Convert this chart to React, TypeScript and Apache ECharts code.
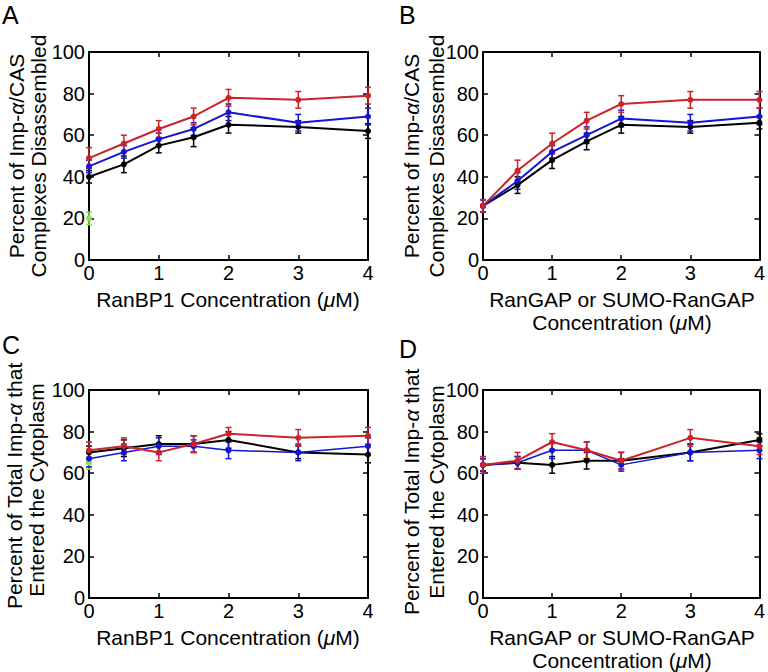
import React, { useEffect, useRef } from "react";
import * as echarts from "echarts";

const concentrations = [0, 0.5, 1, 1.5, 2, 3, 4];
const xTicks = [0, 1, 2, 3, 4];
const yTicks = [0, 20, 40, 60, 80, 100];

// Panel A
const aBlack = [40, 46, 55, 59, 65, 64, 62];
const aBlackErr = [3, 4, 3.5, 4.5, 4, 3, 3.5];
const aBlue = [45, 52, 58, 63, 71, 66, 69];
const aBlueErr = [3, 3, 3, 3, 4, 4, 4];
const aRed = [49, 56, 63, 69, 78, 77, 79];
const aRedErr = [5, 4, 4, 4, 4, 4, 4];
const aGreen = [20];
const aGreenErr = [3];

// Panel B
const bBlack = [26, 36, 48, 57, 65, 64, 66];
const bBlackErr = [3, 4, 4, 4, 4, 3, 3];
const bBlue = [26, 38, 52, 60, 68, 66, 69];
const bBlueErr = [3, 4, 3, 4, 4, 4, 4];
const bRed = [26, 43, 56, 67, 75, 77, 77];
const bRedErr = [3, 5, 5, 4, 4, 4, 4];

// Panel C
const cBlack = [70, 72, 74, 74, 76, 70, 69];
const cBlackErr = [3, 4, 4, 4, 4, 3, 4];
const cBlue = [67, 70, 73, 73, 71, 70, 73];
const cBlueErr = [4, 4, 4, 3, 4, 4, 4];
const cRed = [71, 73, 70, 74, 79, 77, 78];
const cRedErr = [4, 4, 4, 4, 3, 4, 4];
const cGreen = [65];
const cGreenErr = [3];

// Panel D
const dBlack = [64, 65, 64, 66, 66, 70, 76];
const dBlackErr = [3, 3, 4, 4, 4, 4, 3];
const dBlue = [64, 65, 71, 71, 64, 70, 71];
const dBlueErr = [3, 3, 4, 4, 3, 4, 4];
const dRed = [64, 66, 75, 71, 66, 77, 73];
const dRedErr = [4, 4, 4, 4, 4, 4, 4];

const BLACK = "#000000";
const BLUE = "#1414d2";
const RED = "#cc2229";
const GREEN = "#8ee24a";
const FONT = "'Liberation Sans', Arial, Helvetica, sans-serif";

type SeriesDef = { vals: number[]; errs: number[]; color: string; width: number };

const panels: { grid: any; series: SeriesDef[] }[] = [
  {
    grid: { left: 89, top: 52, width: 279, height: 208 },
    series: [
      { vals: aGreen, errs: aGreenErr, color: GREEN, width: 2 },
      { vals: aBlack, errs: aBlackErr, color: BLACK, width: 2 },
      { vals: aBlue, errs: aBlueErr, color: BLUE, width: 2 },
      { vals: aRed, errs: aRedErr, color: RED, width: 2 },
    ],
  },
  {
    grid: { left: 483, top: 52, width: 279, height: 208 },
    series: [
      { vals: bBlack, errs: bBlackErr, color: BLACK, width: 2 },
      { vals: bBlue, errs: bBlueErr, color: BLUE, width: 2 },
      { vals: bRed, errs: bRedErr, color: RED, width: 2 },
    ],
  },
  {
    grid: { left: 89, top: 390, width: 279, height: 208 },
    series: [
      { vals: cGreen, errs: cGreenErr, color: GREEN, width: 2 },
      { vals: cBlack, errs: cBlackErr, color: BLACK, width: 2 },
      { vals: cBlue, errs: cBlueErr, color: BLUE, width: 1.5 },
      { vals: cRed, errs: cRedErr, color: RED, width: 2 },
    ],
  },
  {
    grid: { left: 483, top: 390, width: 279, height: 208 },
    series: [
      { vals: dBlack, errs: dBlackErr, color: BLACK, width: 2 },
      { vals: dBlue, errs: dBlueErr, color: BLUE, width: 1.5 },
      { vals: dRed, errs: dRedErr, color: RED, width: 2 },
    ],
  },
];

function buildOption() {
  const grids: any[] = [];
  const xAxes: any[] = [];
  const yAxes: any[] = [];
  const series: any[] = [];
  const axisLine = { show: true, onZero: false, lineStyle: { color: "#000", width: 2 } };
  const axisTick = { show: true, inside: true, length: 5, lineStyle: { color: "#000", width: 1.5 } };

  panels.forEach((p, i) => {
    grids.push({ ...p.grid, containLabel: false });
    const xBase = {
      type: "value",
      gridIndex: i,
      min: xTicks[0],
      max: xTicks[xTicks.length - 1],
      interval: 1,
      splitLine: { show: false },
      axisLine,
      axisTick,
    };
    xAxes.push({
      ...xBase,
      position: "bottom",
      axisLabel: { show: true, fontSize: 20, color: "#000", fontFamily: FONT, margin: 3 },
    });
    xAxes.push({ ...xBase, position: "top", axisLabel: { show: false } });
    const yBase = {
      type: "value",
      gridIndex: i,
      min: yTicks[0],
      max: yTicks[yTicks.length - 1],
      interval: 20,
      splitLine: { show: false },
      axisLine,
      axisTick,
    };
    yAxes.push({
      ...yBase,
      position: "left",
      axisLabel: { show: true, fontSize: 20, color: "#000", fontFamily: FONT, margin: 4 },
    });
    yAxes.push({ ...yBase, position: "right", axisLabel: { show: false } });

    p.series.forEach((s) => {
      const pts = s.vals.map((v, k) => [concentrations[k], v]);
      const errData = s.vals.map((v, k) => [concentrations[k], v - s.errs[k], v + s.errs[k]]);
      series.push({
        type: "custom",
        xAxisIndex: 2 * i,
        yAxisIndex: 2 * i,
        data: errData,
        encode: { x: 0, y: [1, 2] },
        silent: true,
        renderItem: (_params: any, api: any) => {
          const x = api.value(0);
          const lo = api.coord([x, api.value(1)]);
          const hi = api.coord([x, api.value(2)]);
          const cap = 3;
          const st = { stroke: s.color, lineWidth: 1.5 };
          return {
            type: "group",
            children: [
              { type: "line", shape: { x1: lo[0], y1: lo[1], x2: hi[0], y2: hi[1] }, style: st },
              { type: "line", shape: { x1: lo[0] - cap, y1: lo[1], x2: lo[0] + cap, y2: lo[1] }, style: st },
              { type: "line", shape: { x1: hi[0] - cap, y1: hi[1], x2: hi[0] + cap, y2: hi[1] }, style: st },
            ],
          };
        },
      });
      series.push({
        type: "line",
        xAxisIndex: 2 * i,
        yAxisIndex: 2 * i,
        data: pts,
        symbol: "circle",
        symbolSize: 6,
        showSymbol: true,
        lineStyle: { color: s.color, width: s.width },
        itemStyle: { color: s.color },
        silent: true,
      });
    });
  });

  const titleStyle = (text: string) => ({
    text,
    fontSize: 21,
    fontFamily: FONT,
    fill: "#000",
    align: "center",
    verticalAlign: "middle",
    rich: {
      i: { fontStyle: "italic", fontSize: 21, fontFamily: FONT, fill: "#000" },
    },
  });
  const vText = (x: number, y: number, text: string) => ({
    type: "text",
    x,
    y,
    rotation: Math.PI / 2,
    style: titleStyle(text),
  });
  const hText = (x: number, y: number, text: string) => ({
    type: "text",
    x,
    y,
    style: titleStyle(text),
  });
  const letter = (x: number, y: number, text: string) => ({
    type: "text",
    x,
    y,
    style: { text, fontSize: 25, fontFamily: FONT, fill: "#000", align: "left", verticalAlign: "middle" },
  });

  const graphic = [
    letter(2, 15, "A"),
    letter(399, 15, "B"),
    letter(2, 345, "C"),
    letter(399, 349, "D"),
    vText(16, 156, "Percent of Imp-{i|α}/CAS"),
    vText(38, 156, "Complexes Disassembled"),
    vText(411, 156, "Percent of Imp-{i|α}/CAS"),
    vText(436, 156, "Complexes Disassembled"),
    vText(14, 486, "Percent of Total Imp-{i|α} that"),
    vText(36, 490, "Entered the Cytoplasm"),
    vText(411, 492, "Percent of Total Imp-{i|α} that"),
    vText(436, 492, "Entered the Cytoplasm"),
    hText(228, 299, "RanBP1 Concentration ({i|μ}M)"),
    hText(622, 299, "RanGAP or SUMO-RanGAP"),
    hText(622, 322, "Concentration ({i|μ}M)"),
    hText(228, 637, "RanBP1 Concentration ({i|μ}M)"),
    hText(622, 637, "RanGAP or SUMO-RanGAP"),
    hText(622, 660, "Concentration ({i|μ}M)"),
  ];

  return {
    animation: false,
    backgroundColor: "#ffffff",
    grid: grids,
    xAxis: xAxes,
    yAxis: yAxes,
    series,
    graphic,
  };
}

export default function App() {
  const ref = useRef<HTMLDivElement>(null);
  useEffect(() => {
    if (!ref.current) return;
    const chart = echarts.init(ref.current, undefined, { renderer: "svg" });
    chart.setOption(buildOption() as any);
    return () => chart.dispose();
  }, []);
  return (
    <div
      ref={ref}
      style={{ position: "absolute", left: 0, top: 0, width: 768, height: 672, background: "#fff" }}
    />
  );
}
